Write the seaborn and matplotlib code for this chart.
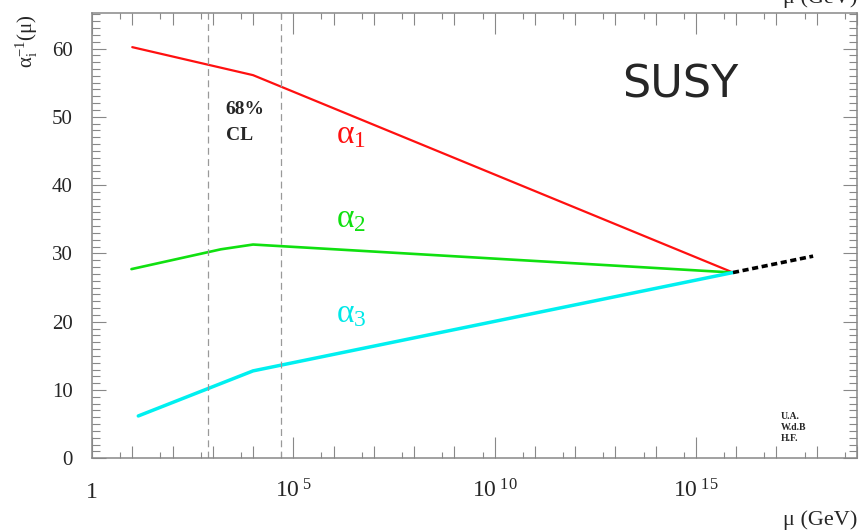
import matplotlib
matplotlib.use("Agg")
import matplotlib.pyplot as plt
import seaborn as sns

# running couplings (inverse); mu in GeV
alpha1_mu = [1e1, 1e4, 10**15.92]
alpha1_inv = [60.2, 56.1, 27.2]
alpha2_mu = [10**0.98, 10**3.2, 1e4, 10**15.92]
alpha2_inv = [27.7, 30.6, 31.3, 27.2]
alpha3_mu = [10**1.15, 1e4, 10**15.92]
alpha3_inv = [6.2, 12.8, 27.2]
unified_mu = [10**15.92, 10**17.91]
unified_inv = [27.2, 29.6]
cl_band = [10**2.89, 10**4.69]

decades = list(range(0, 20))
y_major = [0, 10, 20, 30, 40, 50, 60]

sns.set_style("white")
plt.rcParams["font.family"] = ["Liberation Serif", "DejaVu Serif"]
plt.rcParams["mathtext.fontset"] = "stix"

fig = plt.figure(figsize=(8.62, 5.31), dpi=100)
ax = fig.add_axes([92 / 862, 1 - 458.3 / 531, 765 / 862, 445.3 / 531])
ax.set_xscale("log")

sns.lineplot(x=alpha1_mu, y=alpha1_inv, color="#ff1010", lw=1.6, ax=ax)
sns.lineplot(x=alpha2_mu, y=alpha2_inv, color="#10e010", lw=1.9, ax=ax)
sns.lineplot(x=alpha3_mu, y=alpha3_inv, color="#00f0f0", lw=2.5, ax=ax)
sns.lineplot(x=unified_mu, y=unified_inv, color="black", lw=2.6,
             linestyle=(0, (1.7, 1.0)), ax=ax)
for m in cl_band:
    ax.axvline(m, color="#999999", lw=0.9, linestyle=(0, (5.5, 3.5)))

ax.set_xlim(1, 10**18.94)
ax.set_ylim(0, 65.2)

xt = [10.0**k for k in decades]
xl = []
for k in decades:
    if k == 0:
        xl.append("1")
    elif k % 5 == 0:
        xl.append(r"$\mathregular{10^{\ %d}}$" % k)
    else:
        xl.append("")
ax.set_xticks(xt, xl)
ax.set_xticks([5 * 10.0**k for k in decades[:-1]], minor=True)
ax.set_xticklabels([], minor=True)
ax.set_yticks(y_major)
ax.set_yticks(range(0, 66), minor=True)

grey = "#888888"
ax.tick_params(axis="x", which="major", direction="in", length=8.6, width=0.8,
               color=grey, top=True, bottom=True, labelsize=17, pad=28.5)
ax.tick_params(axis="x", which="minor", direction="in", length=4.3, width=0.8,
               color=grey, top=True, bottom=True)
ax.tick_params(axis="y", which="major", direction="in", length=10, width=0.8,
               color=grey, left=True, right=True, labelsize=15, pad=14)
ax.tick_params(axis="y", which="minor", direction="in", length=5.8, width=0.8,
               color=grey, left=True, right=True)
for lab in ax.get_xticklabels():
    lab.set_verticalalignment("baseline")
for i, t in enumerate(ax.xaxis.get_major_ticks()):
    if i % 5 == 0:
        t.tick1line.set_markersize(15)
        t.tick2line.set_markersize(15)
for s in ax.spines.values():
    s.set_color(grey)
    s.set_linewidth(1.1)

# annotations
ax.text(10**6.06, 46.2, r"$\mathregular{\alpha_1}$", color="#ff1010", fontsize=24, va="baseline")
ax.text(10**6.06, 33.9, r"$\mathregular{\alpha_2}$", color="#10e010", fontsize=24, va="baseline")
ax.text(10**6.06, 20.0, r"$\mathregular{\alpha_3}$", color="#00e8e8", fontsize=24, va="baseline")
ax.text(10**3.32, 51.0, "68%", fontsize=14, fontweight="bold", va="center")
ax.text(10**3.32, 47.2, "CL", fontsize=14, fontweight="bold", va="center")
ax.text(0.693, 0.839, "SUSY", transform=ax.transAxes, fontsize=32,
        family="DejaVu Sans", va="center")
ax.text(10**17.1, 2.3, "U.A.\nW.d.B\nH.F.", fontsize=7, fontweight="bold",
        linespacing=1.25, va="bottom")

fig.text(27 / 862, 1 - 41 / 531, r"$\mathregular{\alpha_i^{-1}(\mu)}$", rotation=90,
         ha="center", va="center", fontsize=15)
fig.text(857 / 862, 6 / 531, "\u03bc (GeV)", ha="right", va="baseline", fontsize=16)
# same label repeated above the frame, mostly outside the figure as in the original
fig.text(857 / 862, 1 - 3 / 531, "\u03bc (GeV)", ha="right", va="baseline", fontsize=16)

fig.savefig("out.png", dpi=100)
